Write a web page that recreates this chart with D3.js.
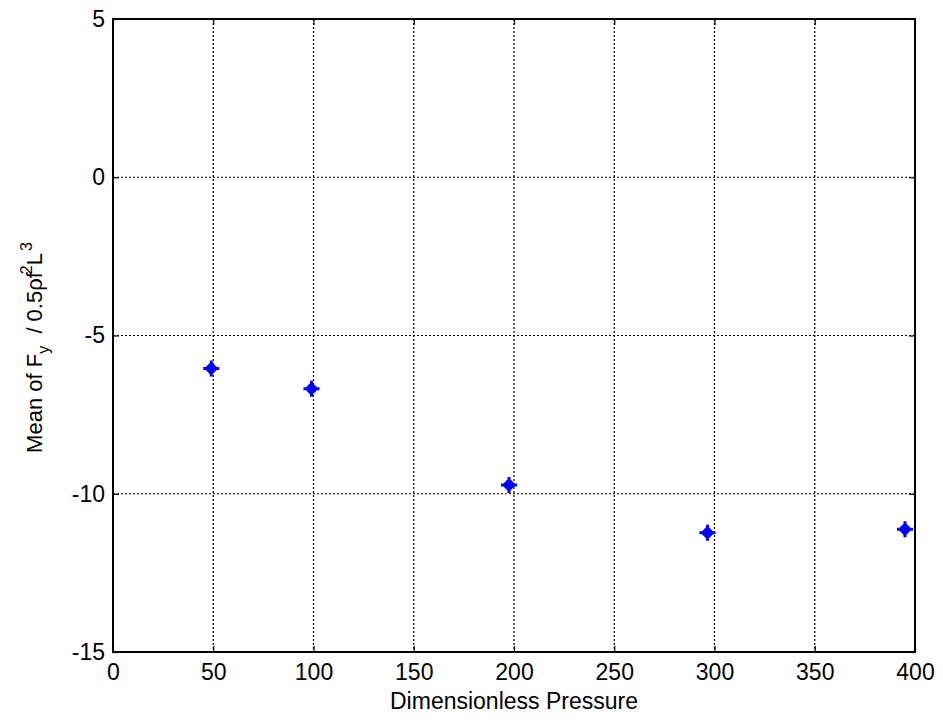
<!DOCTYPE html>
<html>
<head>
<meta charset="utf-8">
<script src="https://cdn.jsdelivr.net/npm/d3@7"></script>
<style>
  body { margin: 0; background: #fff; }
  svg text { font-family: "Liberation Sans", Arial, sans-serif; fill: #000; }
</style>
</head>
<body>
<svg id="chart" width="943" height="720"></svg>
<script>
// Mean lateral force coefficient vs. dimensionless pressure
const pressure = [49, 99, 197.5, 296.5, 395];
const meanFy   = [-6.04, -6.68, -9.72, -11.23, -11.12];
const xTicks = [0, 50, 100, 150, 200, 250, 300, 350, 400];
const yTicks = [5, 0, -5, -10, -15];

const svg = d3.select("#chart");
const m = { left: 113, top: 19, right: 915, bottom: 652 };

const x = d3.scaleLinear().domain([0, 400]).range([m.left, m.right]);
const y = d3.scaleLinear().domain([-15, 5]).range([m.bottom, m.top]);

// dotted grid
const grid = svg.append("g");
grid.selectAll("line.gx").data(xTicks.slice(1, -1)).join("line")
  .attr("x1", d => x(d)).attr("x2", d => x(d))
  .attr("y1", m.top).attr("y2", m.bottom);
grid.selectAll("line.gy").data(yTicks.slice(1, -1)).join("line")
  .attr("x1", m.left).attr("x2", m.right)
  .attr("y1", d => y(d)).attr("y2", d => y(d));
grid.selectAll("line")
  .attr("stroke", "#000").attr("stroke-width", 1.2)
  .attr("stroke-dasharray", "2,2");

// axes with inward ticks
const fs = 23;
const fmt = d => String(d);
const xAxis = svg.append("g").attr("transform", `translate(0,${m.bottom})`)
  .call(d3.axisBottom(x).tickValues(xTicks).tickSize(-6).tickPadding(12).tickFormat(fmt));
const yAxis = svg.append("g").attr("transform", `translate(${m.left},0)`)
  .call(d3.axisLeft(y).tickValues(yTicks).tickSize(-6).tickPadding(8).tickFormat(fmt));
svg.append("g").attr("transform", `translate(0,${m.top})`)
  .call(d3.axisTop(x).tickValues(xTicks).tickSize(-6).tickFormat(""));
svg.append("g").attr("transform", `translate(${m.right},0)`)
  .call(d3.axisRight(y).tickValues(yTicks).tickSize(-6).tickFormat(""));

svg.selectAll(".domain").remove();
svg.selectAll(".tick line").attr("stroke", "#000").attr("stroke-width", 1.2);
svg.selectAll(".tick text").attr("font-size", fs)
  .style("font-family", '"Liberation Sans", Arial, sans-serif').attr("fill", "#000");

// box
svg.append("rect")
  .attr("x", m.left).attr("y", m.top)
  .attr("width", m.right - m.left).attr("height", m.bottom - m.top)
  .attr("fill", "none").attr("stroke", "#000").attr("stroke-width", 2);

// markers: thick plus merged with a diamond
const marker = "M-8,-1.5 L-5.5,-1.5 L-1.5,-5.5 L-1.5,-8 L1.5,-8 L1.5,-5.5 L5.5,-1.5 L8,-1.5 " +
               "L8,1.5 L5.5,1.5 L1.5,5.5 L1.5,8 L-1.5,8 L-1.5,5.5 L-5.5,1.5 L-8,1.5 Z";
svg.append("g").selectAll("path").data(pressure.map((p, i) => [p, meanFy[i]])).join("path")
  .attr("transform", d => `translate(${x(d[0])},${y(d[1])})`)
  .attr("d", marker)
  .attr("fill", "#0000ff");

// axis labels
svg.append("text")
  .attr("x", (m.left + m.right) / 2).attr("y", 709)
  .attr("text-anchor", "middle").attr("font-size", fs)
  .text("Dimensionless Pressure");

const yl = svg.append("text")
  .attr("transform", `translate(42,${(m.top + m.bottom) / 2 + 12}) rotate(-90)`)
  .attr("text-anchor", "middle").attr("font-size", 22);
yl.append("tspan").text("Mean of F");
yl.append("tspan").attr("font-size", 16).attr("dy", 7).text("y");
yl.append("tspan").attr("dy", -7).text("\u00a0 / 0.5\u03c1f");
yl.append("tspan").attr("font-size", 16).attr("dy", -10).attr("dx", -2).text("2");
yl.append("tspan").attr("dy", 10).text("L");
yl.append("tspan").attr("font-size", 16).attr("dy", -10).attr("dx", 2).text("3");
</script>
</body>
</html>
